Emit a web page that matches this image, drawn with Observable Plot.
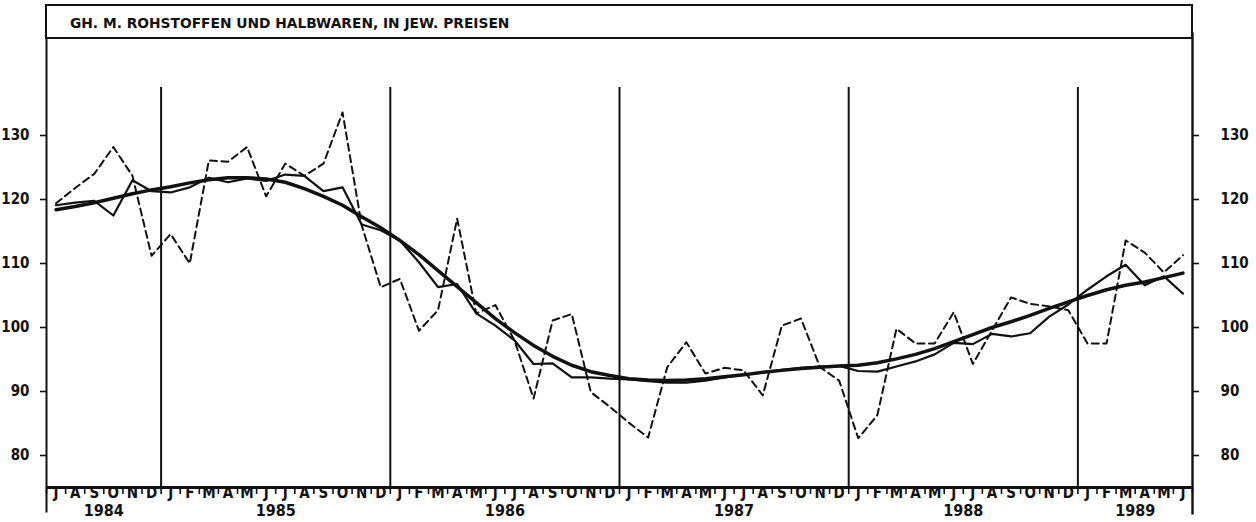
<!DOCTYPE html>
<html>
<head>
<meta charset="utf-8">
<script src="https://cdn.jsdelivr.net/npm/d3@7"></script>
<script src="https://cdn.jsdelivr.net/npm/@observablehq/plot@0.6"></script>
<style>
  html, body { margin: 0; padding: 0; background: #fff; }
  #chart { position: relative; width: 1256px; height: 522px; overflow: hidden; }
  #title {
    position: absolute; left: 45px; top: 4px; width: 1121px; height: 31px;
    border: 2px solid #111; z-index: 2; background: #fff;
    font: bold 13.8px "DejaVu Sans", sans-serif; color: #111;
    line-height: 34px; padding-left: 23px; box-sizing: content-box; white-space: nowrap;
  }
  #plot { position: absolute; left: 0; top: 38px; }
  #plot svg { background: transparent; }
</style>
</head>
<body>
<div id="chart">
  <div id="title"></div>
  <div id="plot"></div>
</div>
<script>
// Headline of the panel
const titleText = "GH. M. ROHSTOFFEN UND HALBWAREN, IN JEW. PREISEN";

// Monthly series, July 1984 – June 1989
const startMonth = 6; // July (0-based)

// Original values (dashed)
const original = [
  119.4, 121.8, 124.0, 128.2, 123.7, 111.2,
  114.6, 110.0, 126.1, 125.9, 128.2, 120.5, 125.6, 123.7, 125.6, 133.6, 116.0, 106.3,
  107.6, 99.5, 102.7, 117.0, 102.2, 103.5, 98.0, 88.9, 101.1, 102.1, 89.9, 87.6,
  85.1, 82.8, 93.8, 97.7, 92.8, 93.7, 93.3, 89.4, 100.3, 101.4, 93.8, 91.7,
  82.7, 86.3, 99.8, 97.5, 97.5, 102.4, 94.3, 99.5, 104.7, 103.7, 103.3, 102.7,
  97.5, 97.5, 113.6, 111.7, 108.6, 111.3
];

// Smoothed component (thin solid)
const smoothed = [
  119.1, 119.5, 119.8, 117.5, 123.0, 121.3,
  121.1, 121.9, 123.4, 122.7, 123.3, 122.9, 123.9, 123.7, 121.3, 121.9, 116.1, 115.2,
  113.6, 110.2, 106.3, 106.8, 102.2, 100.3, 98.0, 94.3, 94.4, 92.2, 92.2, 92.0,
  91.9, 91.6, 91.4, 91.4, 91.7, 92.2, 92.6, 93.0, 93.4, 93.7, 93.9, 94.0,
  93.2, 93.1, 93.9, 94.7, 95.8, 97.6, 97.4, 99.0, 98.6, 99.1, 101.7, 103.6,
  105.9, 108.0, 109.8, 106.6, 108.0, 105.3
];

// Trend (thick solid)
const trend = [
  118.4, 118.9, 119.5, 120.2, 120.9, 121.5,
  122.0, 122.6, 123.1, 123.4, 123.4, 123.2, 122.7, 121.7, 120.5, 119.1, 117.3, 115.6,
  113.6, 111.4, 108.9, 106.4, 103.9, 101.4, 99.2, 97.2, 95.5, 94.1, 93.1, 92.5,
  92.0, 91.8, 91.7, 91.8, 92.0, 92.3, 92.6, 93.0, 93.3, 93.6, 93.8, 94.0,
  94.1, 94.5, 95.1, 95.8, 96.7, 97.8, 98.9, 100.0, 100.9, 101.9, 103.0, 104.0,
  105.0, 105.9, 106.6, 107.1, 107.8, 108.5
];

// Axis labels
const monthInitials = ["J", "F", "M", "A", "M", "J", "J", "A", "S", "O", "N", "D"];
const yearLabels = ["1984", "1985", "1986", "1987", "1988", "1989"];
const yTicks = [80, 90, 100, 110, 120, 130];

document.getElementById("title").textContent = titleText;

// One row per month; x runs over month slots, points sit mid-slot
const rows = original.map((v, k) => ({
  slot: k + 0.5,
  original: v,
  smoothed: smoothed[k],
  trend: trend[k],
  initial: monthInitials[(startMonth + k) % 12]
}));
const nMonths = rows.length;

// Year spans (in month slots) for the year captions and separators
const yearSpans = yearLabels.map((label, j) => {
  const first = Math.max(0, j * 12 - startMonth);
  const last = Math.min(nMonths, (j + 1) * 12 - startMonth);
  return {label, mid: (first + last) / 2, first};
});
const yearBreaks = yearSpans.slice(1).map(d => d.first);
const monthBounds = d3.range(nMonths + 1);

const font = '"Liberation Sans Narrow", "Arial Narrow", "DejaVu Sans Condensed", sans-serif';
const ink = "#111";

const chart = Plot.plot({
  width: 1256,
  height: 484,
  marginLeft: 46,
  marginRight: 64,
  marginTop: 1,
  marginBottom: 35,
  x: {domain: [0, nMonths], axis: null},
  y: {domain: [75, 145], axis: null},
  style: {background: "transparent", overflow: "visible"},
  marks: [
    // year separators
    Plot.ruleX(yearBreaks, {y1: 137.5, y2: 75, stroke: ink, strokeWidth: 2}),
    // month slot ticks below the baseline
    Plot.axisX(monthBounds, {
      anchor: "bottom", tickSize: 7, tickFormat: () => "",
      stroke: ink, strokeWidth: 1.6
    }),
    // month initials
    Plot.text(rows, {
      x: "slot", text: "initial", frameAnchor: "bottom", dy: 10,
      fontFamily: font, fontWeight: "bold", fontSize: 15, fill: ink
    }),
    // year captions
    Plot.text(yearSpans, {
      x: "mid", text: "label", frameAnchor: "bottom", dy: 28,
      fontFamily: font, fontWeight: "bold", fontSize: 16, fill: ink
    }),
    // value axes on both sides
    Plot.axisY(yTicks, {
      anchor: "left", tickSize: 6, tickPadding: 11,
      fontFamily: font, fontWeight: "bold", fontSize: 15, stroke: ink, strokeWidth: 1.6, fill: ink
    }),
    Plot.axisY(yTicks, {
      anchor: "right", tickSize: 6, tickPadding: 22,
      fontFamily: font, fontWeight: "bold", fontSize: 15, stroke: ink, strokeWidth: 1.6, fill: ink
    }),
    // frame: side lines and baseline
    Plot.ruleX([0], {y1: 146, y2: 71, stroke: ink, strokeWidth: 2}),
    Plot.ruleX([nMonths], {y1: 146, y2: 70.7, stroke: ink, strokeWidth: 2.4}),
    Plot.ruleY([75], {stroke: ink, strokeWidth: 3}),
    // series
    Plot.line(rows, {x: "slot", y: "original", stroke: ink, strokeWidth: 2, strokeDasharray: "7,4.5"}),
    Plot.line(rows, {x: "slot", y: "smoothed", stroke: ink, strokeWidth: 2.2}),
    Plot.line(rows, {x: "slot", y: "trend", stroke: ink, strokeWidth: 3.5})
  ]
});

document.getElementById("plot").append(chart);
</script>
</body>
</html>
